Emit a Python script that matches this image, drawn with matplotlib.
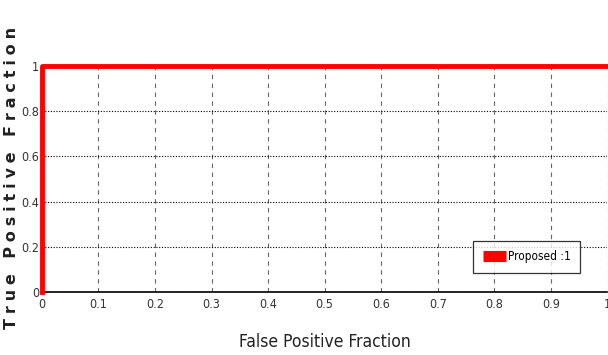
import matplotlib
matplotlib.use("Agg")
import matplotlib.pyplot as plt
import numpy as np

# ROC curve points
fpr = [0.0, 0.0, 1.0]
tpr = [0.0, 1.0, 1.0]
series_label = "Proposed :1"
xticks = np.round(np.arange(0, 1.01, 0.1), 1)
yticks = np.round(np.arange(0, 1.01, 0.2), 1)

narrow = dict(family="DejaVu Sans", stretch="condensed")

fig = plt.figure(figsize=(6.08, 3.55), dpi=100)
ax = fig.add_axes([0.069, 0.177, 0.93, 0.637])

ax.plot(fpr, tpr, color="#ff0000", lw=3.5, label=series_label, clip_on=False, zorder=5)

ax.set_xlim(0, 1)
ax.set_ylim(0, 1)
ax.set_xticks(xticks)
ax.set_yticks(yticks)
ax.set_xticklabels([f"{v:g}" for v in xticks], fontsize=9, color="#333333", **narrow)
ax.set_yticklabels([f"{v:g}" for v in yticks], fontsize=9, color="#333333", **narrow)
ax.tick_params(axis="y", direction="in", length=0, pad=2)
ax.tick_params(axis="x", direction="in", length=0, pad=4)

# dashed verticals, dotted horizontals
ax.xaxis.grid(True, linestyle=(0, (4, 4)), color="#666666", lw=0.8)
ax.yaxis.grid(True, linestyle=(0, (1, 1.5)), color="black", lw=0.8)

for s in ["top", "right"]:
    ax.spines[s].set_visible(False)
ax.spines["bottom"].set_linewidth(1.2)
ax.spines["left"].set_linewidth(1.2)

ax.set_xlabel("False Positive Fraction", fontsize=12.5, labelpad=16, color="#222222", **narrow)

ylab = "\u2009\u200a".join("True Positive Fraction")
fig.text(0.019, 0.5, ylab, rotation=90, ha="center", va="center",
         fontsize=11.5, fontweight="semibold", color="#222222")

leg = ax.legend(loc="lower right", bbox_to_anchor=(0.952, 0.085), frameon=True,
                fancybox=False, edgecolor="black", handlelength=2.0,
                handletextpad=0.15, borderpad=0.8, borderaxespad=0,
                prop=dict(size=8.5, **narrow))
leg.get_frame().set_linewidth(0.9)
for h in leg.get_lines():
    h.set_linewidth(8)
    h.set_solid_capstyle("butt")

fig.savefig("out.png", dpi=100)
